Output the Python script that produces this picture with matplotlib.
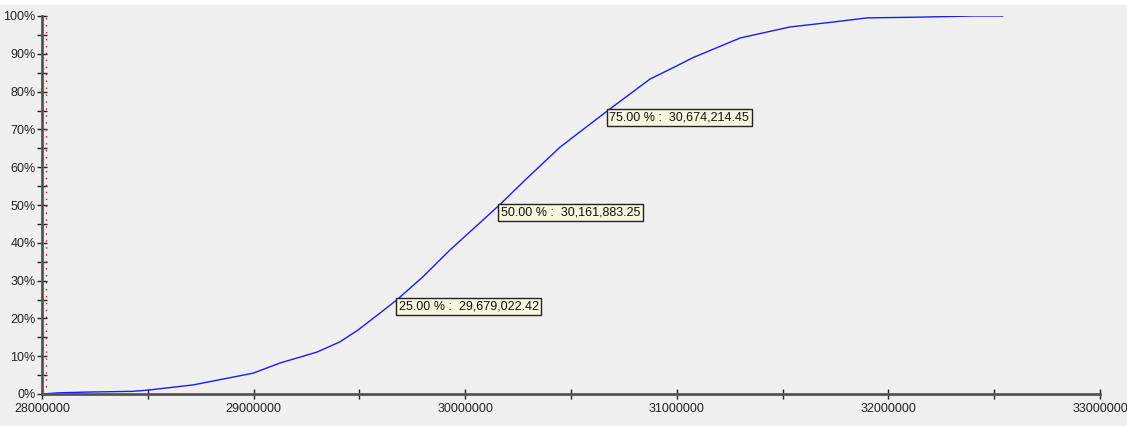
import matplotlib
matplotlib.use("Agg")
import matplotlib.pyplot as plt
from matplotlib.ticker import MultipleLocator, FuncFormatter
import matplotlib.patches as mpatches

plt.rcParams['font.family'] = ['Liberation Sans', 'DejaVu Sans']

# cumulative distribution
values = [28000000, 28076000, 28203000, 28425000, 28496000, 28714000, 28997000,
          29125000, 29300000, 29408000, 29493000, 29597000, 29679022, 29800000,
          29928000, 30056000, 30161883, 30283000, 30448000, 30674214, 30873000,
          31000000, 31077000, 31300000, 31470000, 31535000, 31738000, 31900000,
          32150000, 32395000, 32540000]
percent = [0, 0.3, 0.5, 0.7, 1.0, 2.4, 5.5, 8.2, 11.1, 13.8, 16.9, 21.4, 25.0,
           31.0, 38.1, 44.6, 50.0, 56.6, 65.3, 75.0, 83.3, 86.8, 89.0, 94.2,
           96.3, 97.1, 98.4, 99.5, 99.7, 100, 100]

# quartile markers
q_pct = [25.0, 50.0, 75.0]
q_val = [29679022.42, 30161883.25, 30674214.45]

bg = "#f0f0f0"
fig = plt.figure(figsize=(11.27, 4.26), dpi=100, facecolor=bg)
# thin white strip at the top of the window
fig.patches.append(mpatches.Rectangle((0, 1 - 5 / 426), 1, 5 / 426, transform=fig.transFigure,
                                      facecolor="white", edgecolor="none"))
ax = fig.add_axes([42 / 1127, 32 / 426, 1058 / 1127, 378 / 426])
ax.set_facecolor(bg)

ax.plot(values, percent, color="#1a1aff", linewidth=1)

ax.set_xlim(28000000, 33000000)
ax.set_ylim(0, 100)

for s in ["top", "right"]:
    ax.spines[s].set_visible(False)
for s in ["left", "bottom"]:
    ax.spines[s].set_color("#555555")
    ax.spines[s].set_linewidth(2)

# red dotted marker lines
ax.axvline(28019000, color="red", linestyle=(0, (1, 4)), linewidth=1)
ax.axhline(0, color="#ff5555", linestyle=(0, (1, 4)), linewidth=1, clip_on=False)

ax.xaxis.set_major_locator(MultipleLocator(1000000))
ax.xaxis.set_minor_locator(MultipleLocator(500000))
ax.yaxis.set_major_locator(MultipleLocator(10))
ax.yaxis.set_minor_locator(MultipleLocator(5))
ax.xaxis.set_major_formatter(FuncFormatter(lambda v, p: "%d" % v))
ax.yaxis.set_major_formatter(FuncFormatter(lambda v, p: "%d%%" % v))
ax.tick_params(which="both", direction="inout", length=7, width=1, color="#222222",
               labelsize=9, labelcolor="#222222")
ax.tick_params(axis="y", pad=1)
ax.tick_params(axis="x", pad=3)

for p, v in zip(q_pct, q_val):
    ax.annotate("%.2f %% :  %s" % (p, format(v, ",.2f")), xy=(v, p), xytext=(1, -1),
                textcoords="offset points", ha="left", va="top", fontsize=9,
                color="#111111",
                bbox=dict(boxstyle="square,pad=0.2", facecolor="#f6f6dc",
                          edgecolor="#222222", linewidth=1))

fig.savefig("out.png", dpi=100, facecolor=bg)
